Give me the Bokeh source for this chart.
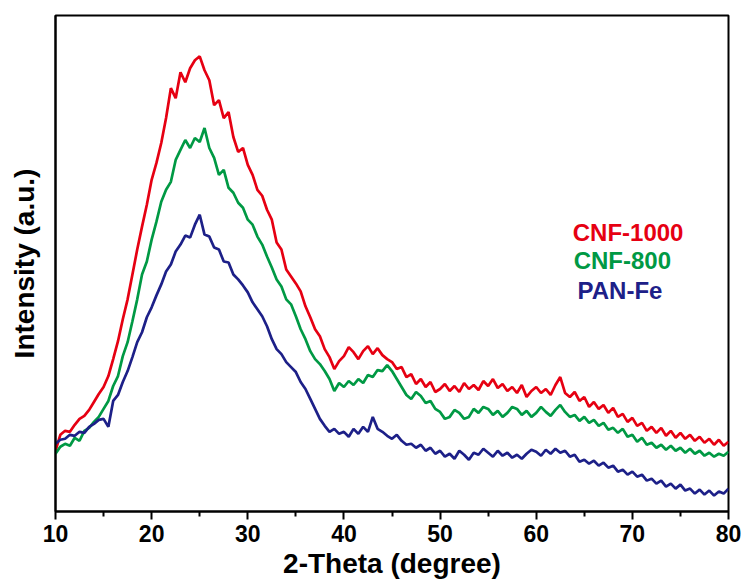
from bokeh.plotting import figure
from bokeh.models import Range1d, FixedTicker, Label
from bokeh.embed import file_html
from bokeh.resources import INLINE

# 2-Theta values (degree), 0.5 degree step
two_theta = [10.0 + 0.5 * i for i in range(141)]

cnf_1000 = [61, 77, 81, 80, 87, 93, 96, 102, 110, 118, 125, 136, 153, 171, 193, 213, 238, 263, 286, 308,
            333, 350, 370, 395, 425, 415, 441, 431, 445, 453, 457, 443, 433, 408, 413, 395, 401, 376, 361, 365,
            348, 338, 323, 317, 303, 293, 270, 263, 243, 236, 229, 221, 206, 195, 183, 176, 163, 155, 143, 151,
            156, 165, 160, 153, 161, 166, 158, 164, 157, 153, 150, 143, 145, 135, 138, 128, 133, 125, 130, 120,
            123, 128, 121, 126, 120, 129, 123, 127, 122, 131, 126, 133, 124, 128, 121, 125, 119, 127, 115, 121,
            125, 119, 123, 117, 127, 135, 119, 115, 120, 111, 115, 105, 110, 103, 107, 99, 104, 95, 98, 90,
            94, 86, 89, 81, 85, 79, 84, 76, 81, 74, 79, 73, 77, 71, 75, 69, 73, 67, 72, 66, 70]

cnf_800 = [58, 65, 68, 66, 74, 71, 81, 84, 90, 95, 103, 111, 126, 136, 156, 170, 191, 213, 238, 251,
           273, 291, 311, 323, 331, 353, 363, 373, 365, 375, 371, 385, 365, 355, 338, 343, 325, 320, 310, 305,
           293, 288, 276, 268, 256, 245, 233, 226, 213, 208, 196, 183, 173, 161, 153, 148, 141, 133, 121, 129,
           125, 131, 127, 133, 129, 137, 135, 142, 141, 147, 141, 133, 125, 117, 113, 120, 116, 109, 111, 103,
           100, 93, 95, 102, 99, 93, 95, 103, 99, 105, 103, 97, 101, 95, 99, 105, 103, 97, 101, 95,
           99, 105, 100, 96, 102, 107, 100, 95, 97, 91, 95, 89, 92, 86, 89, 82, 84, 79, 83, 75,
           77, 70, 74, 67, 69, 64, 67, 62, 66, 61, 64, 59, 63, 58, 61, 56, 59, 55, 58, 56, 60]

pan_fe = [68, 72, 73, 77, 76, 80, 79, 85, 88, 92, 93, 85, 111, 117, 130, 141, 155, 170, 180, 195,
          205, 217, 228, 241, 248, 261, 268, 277, 275, 288, 298, 278, 276, 265, 263, 251, 250, 238, 233, 227,
          220, 210, 203, 196, 186, 173, 163, 158, 150, 145, 140, 130, 123, 113, 103, 93, 86, 80, 83, 78,
          80, 75, 83, 78, 85, 80, 95, 83, 80, 76, 73, 77, 71, 67, 68, 64, 67, 61, 64, 58,
          61, 55, 58, 53, 61, 57, 52, 59, 57, 63, 59, 55, 61, 56, 59, 54, 57, 53, 58, 62,
          60, 56, 62, 58, 63, 59, 61, 55, 57, 50, 52, 48, 51, 46, 49, 44, 46, 40, 42, 37,
          40, 35, 37, 31, 33, 28, 31, 25, 28, 23, 27, 21, 23, 18, 22, 17, 21, 16, 20, 18, 23]

series_names = ["CNF-1000", "CNF-800", "PAN-Fe"]
series_colors = ["#E60012", "#009944", "#1D2088"]
x_ticks = [10, 20, 30, 40, 50, 60, 70, 80]
x_minor_ticks = [15, 25, 35, 45, 55, 65, 75]

FONT = "Liberation Sans"

p = figure(width=747, height=581, output_backend="svg", toolbar_location=None,
           x_range=Range1d(10, 80), y_range=Range1d(0, 498))
p.min_border_left = 55
p.min_border_right = 19
p.min_border_top = 15
p.min_border_bottom = 68
p.background_fill_color = "white"
p.border_fill_color = "white"
p.outline_line_color = "black"
p.outline_line_width = 2
p.xgrid.visible = False
p.ygrid.visible = False

for ys, col in zip([cnf_1000, cnf_800, pan_fe], series_colors):
    p.line(two_theta, ys, line_color=col, line_width=2.7)

# x axis
xa = p.xaxis[0]
xa.ticker = FixedTicker(ticks=x_ticks, minor_ticks=x_minor_ticks)
xa.axis_line_width = 2
xa.major_tick_line_width = 2
xa.minor_tick_line_width = 2
xa.major_tick_out = 8
xa.major_tick_in = 0
xa.minor_tick_out = 5
xa.minor_tick_in = 0
xa.major_label_text_font = FONT
xa.major_label_text_font_style = "bold"
xa.major_label_text_font_size = "23px"
xa.major_label_text_color = "black"
xa.major_label_standoff = 5
xa.axis_label = "2-Theta (degree)"
xa.axis_label_text_font = FONT
xa.axis_label_text_font_style = "bold"
xa.axis_label_text_font_size = "28px"
xa.axis_label_text_color = "black"
xa.axis_label_standoff = 3

# y axis
ya = p.yaxis[0]
ya.ticker = FixedTicker(ticks=[])
ya.axis_line_width = 2
ya.major_tick_line_color = None
ya.minor_tick_line_color = None
ya.major_label_text_font_size = "0px"
ya.axis_label = "Intensity (a.u.)"
ya.axis_label_text_font = FONT
ya.axis_label_text_font_style = "bold"
ya.axis_label_text_font_size = "28px"
ya.axis_label_text_color = "black"
ya.axis_label_standoff = 16

# legend as coloured text labels
label_pos = [(63.8, 280), (63.9, 252), (64.3, 222)]
for name, col, (lx, ly) in zip(series_names, series_colors, label_pos):
    p.add_layout(Label(x=lx, y=ly, text=name, text_color=col, text_font=FONT,
                       text_font_style="bold", text_font_size="24px",
                       text_baseline="alphabetic"))

open("out.html", "w").write(file_html(p, INLINE))
